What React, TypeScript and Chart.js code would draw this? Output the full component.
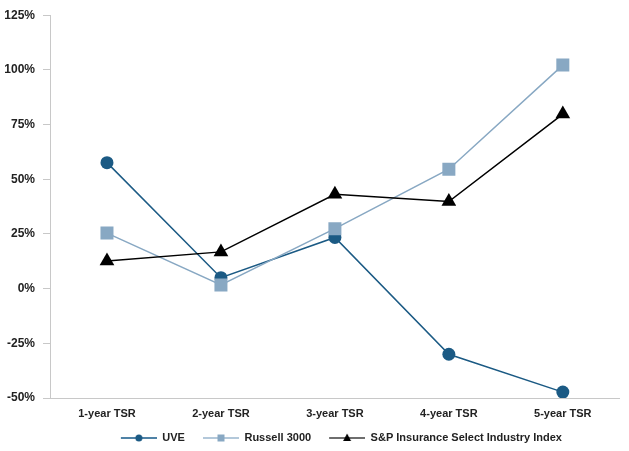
import React, { useEffect, useRef } from "react";
import { Chart, registerables } from "chart.js";

Chart.register(...registerables);

const categories = ["1-year TSR", "2-year TSR", "3-year TSR", "4-year TSR", "5-year TSR"];
const seriesNames = ["UVE", "Russell 3000", "S&P Insurance Select Industry Index"];
const uveValues = [57.6, 5.0, 23.4, -30.0, -47.3];
const russellValues = [25.4, 1.7, 27.4, 54.6, 102.2];
const spValues = [12.6, 16.8, 43.1, 39.8, 79.8];
const yMin = -50;
const yMax = 125;
const yStep = 25;

const UVE_COLOR = "#1b5a84";
const RUSSELL_COLOR = "#88a8c3";
const SP_COLOR = "#000000";
const FONT = "'Liberation Sans', Arial, Helvetica, sans-serif";

function legendImage(color: string, style: string, lineColor: string): HTMLCanvasElement {
  const c = document.createElement("canvas");
  const w = 49;
  const h = 12;
  c.width = w;
  c.height = h;
  const ctx = c.getContext("2d")!;
  const x0 = 13;
  ctx.strokeStyle = lineColor;
  ctx.lineWidth = 2;
  ctx.beginPath();
  ctx.moveTo(x0, h / 2);
  ctx.lineTo(w, h / 2);
  ctx.stroke();
  const cx = x0 + (w - x0) / 2;
  const cy = h / 2;
  ctx.fillStyle = color;
  ctx.beginPath();
  if (style === "circle") {
    ctx.arc(cx, cy, 3.5, 0, Math.PI * 2);
  } else if (style === "rect") {
    ctx.rect(cx - 3.5, cy - 3.5, 7, 7);
  } else {
    ctx.moveTo(cx, cy - 4.5);
    ctx.lineTo(cx + 4, cy + 3);
    ctx.lineTo(cx - 4, cy + 3);
    ctx.closePath();
  }
  ctx.fill();
  return c;
}

export default function App() {
  const ref = useRef<HTMLCanvasElement | null>(null);

  useEffect(() => {
    document.body.style.margin = "0";
    const canvas = ref.current;
    if (!canvas) return;

    const imgs = [
      legendImage(UVE_COLOR, "circle", "#4f82a6"),
      legendImage(RUSSELL_COLOR, "rect", "#b3c8da"),
      legendImage(SP_COLOR, "triangle", "#6e6e6e"),
    ];

    const chart = new Chart(canvas, {
      type: "line",
      data: {
        labels: categories,
        datasets: [
          {
            label: seriesNames[0],
            data: uveValues,
            borderColor: UVE_COLOR,
            backgroundColor: UVE_COLOR,
            borderWidth: 1.5,
            pointStyle: "circle",
            pointRadius: 6.5,
            pointBorderWidth: 0,
            order: 2,
          },
          {
            label: seriesNames[1],
            data: russellValues,
            borderColor: RUSSELL_COLOR,
            backgroundColor: RUSSELL_COLOR,
            borderWidth: 1.5,
            pointStyle: "rect",
            pointRadius: 9.2,
            pointBorderWidth: 0,
            order: 1,
          },
          {
            label: seriesNames[2],
            data: spValues,
            borderColor: SP_COLOR,
            backgroundColor: SP_COLOR,
            borderWidth: 1.5,
            pointStyle: "triangle",
            pointRadius: 8.5,
            pointBorderWidth: 0,
            order: 0,
          },
        ],
      },
      options: {
        responsive: false,
        animation: false,
        layout: { padding: { top: 12, right: 4, left: 0, bottom: -2.5 } },
        plugins: {
          tooltip: { enabled: false },
          legend: {
            position: "bottom",
            fullSize: false,
            labels: {
              usePointStyle: true,
              pointStyleWidth: 49,
              padding: 5,
              color: "#222222",
              font: { family: FONT, size: 11, weight: "bold" },
              generateLabels: (ch: any) =>
                ch.data.datasets.map((ds: any, i: number) => ({
                  text: ds.label,
                  pointStyle: imgs[i],
                  fillStyle: ds.backgroundColor,
                  strokeStyle: ds.borderColor,
                  lineWidth: 0,
                  hidden: false,
                  datasetIndex: i,
                  fontColor: "#222222",
                })),
            },
          },
        },
        scales: {
          x: {
            offset: true,
            grid: { drawOnChartArea: false, drawTicks: false },
            border: { color: "#c8c8c8", width: 1 },
            ticks: {
              padding: 9,
              color: "#222222",
              font: { family: FONT, size: 11, weight: "bold" },
            },
            afterFit: (s: any) => {
              s.height = 29.5;
            },
          },
          y: {
            min: yMin,
            max: yMax,
            grid: {
              drawOnChartArea: false,
              drawTicks: true,
              tickLength: 7,
              color: "#c8c8c8",
            },
            border: { color: "#c8c8c8", width: 1 },
            ticks: {
              stepSize: yStep,
              padding: 8,
              color: "#222222",
              font: { family: FONT, size: 12, weight: "bold" },
              callback: (v: any) => `${v}%`,
            },
            afterFit: (s: any) => {
              s.width = 50;
            },
          },
        },
      },
    });

    return () => chart.destroy();
  }, []);

  return (
    <div style={{ width: 629, height: 451 }}>
      <canvas ref={ref} width={629} height={451} style={{ display: "block", width: 629, height: 451 }} />
    </div>
  );
}
